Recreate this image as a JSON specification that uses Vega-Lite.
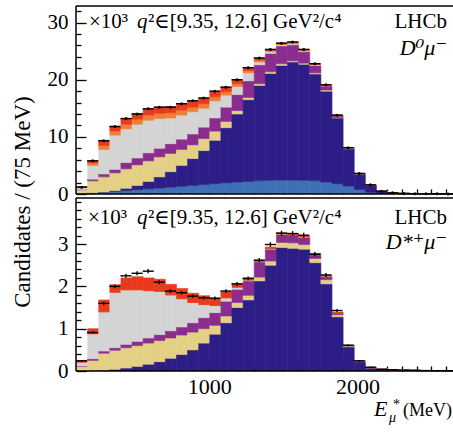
{
  "$schema": "https://vega.github.io/schema/vega-lite/v6.json",
  "background": "white",
  "padding": {"left": 12, "top": 5, "right": 0, "bottom": 0},
  "bounds": "flush",
  "spacing": 4,
  "config": {
    "view": {"stroke": null},
    "font": "Liberation Serif, Times New Roman, DejaVu Serif, serif",
    "text": {"font": "Liberation Serif, Times New Roman, DejaVu Serif, serif", "color": "black"},
    "axis": {"domain": false, "tickColor": "black", "tickWidth": 1.3, "labelColor": "black", "labelFont": "Liberation Serif, Times New Roman, DejaVu Serif, serif", "grid": false, "title": null, "labelOverlap": false, "labelBound": false, "labelFlush": false, "zindex": 2}
  },
  "datasets": {
    "top": [
      {"lo":100,"hi":175,"mid":137.5,"c1":0.05,"c2":0.03,"c3":0.67,"c4":0.07,"c5":0.33,"c6":0.07,"c7":0.08,"n":1.2,"e":0.035},
      {"lo":175,"hi":250,"mid":212.5,"c1":0.15,"c2":0.05,"c3":2.1,"c4":0.3,"c5":2.4,"c6":0.4,"c7":0.45,"n":5.8,"e":0.076},
      {"lo":250,"hi":325,"mid":287.5,"c1":0.3,"c2":0.05,"c3":2.65,"c4":0.5,"c5":4.3,"c6":0.7,"c7":0.9,"n":9.3,"e":0.096},
      {"lo":325,"hi":400,"mid":362.5,"c1":0.45,"c2":0.15,"c3":3.1,"c4":0.6,"c5":6.0,"c6":0.7,"c7":0.9,"n":11.8,"e":0.109},
      {"lo":400,"hi":475,"mid":437.5,"c1":0.6,"c2":0.4,"c3":3.4,"c4":1.1,"c5":5.9,"c6":0.8,"c7":1.0,"n":13.2,"e":0.115},
      {"lo":475,"hi":550,"mid":512.5,"c1":0.75,"c2":0.75,"c3":3.6,"c4":1.2,"c5":5.9,"c6":0.9,"c7":1.0,"n":14.0,"e":0.118},
      {"lo":550,"hi":625,"mid":587.5,"c1":0.9,"c2":1.3,"c3":3.6,"c4":1.4,"c5":5.7,"c6":0.9,"c7":1.1,"n":14.9,"e":0.122},
      {"lo":625,"hi":700,"mid":662.5,"c1":1.05,"c2":1.95,"c3":3.5,"c4":1.5,"c5":5.2,"c6":0.9,"c7":1.1,"n":15.2,"e":0.123},
      {"lo":700,"hi":775,"mid":737.5,"c1":1.2,"c2":2.7,"c3":3.2,"c4":1.7,"c5":4.5,"c6":0.9,"c7":1.1,"n":15.2,"e":0.123},
      {"lo":775,"hi":850,"mid":812.5,"c1":1.35,"c2":3.65,"c3":2.8,"c4":1.8,"c5":4.2,"c6":0.9,"c7":1.1,"n":15.8,"e":0.126},
      {"lo":850,"hi":925,"mid":887.5,"c1":1.5,"c2":4.7,"c3":2.4,"c4":1.9,"c5":3.9,"c6":0.8,"c7":1.1,"n":16.3,"e":0.128},
      {"lo":925,"hi":1000,"mid":962.5,"c1":1.65,"c2":5.95,"c3":2.1,"c4":2.0,"c5":3.3,"c6":0.8,"c7":1.0,"n":16.8,"e":0.13},
      {"lo":1000,"hi":1075,"mid":1037.5,"c1":1.8,"c2":7.6,"c3":1.6,"c4":2.3,"c5":3.0,"c6":0.7,"c7":0.9,"n":18.0,"e":0.134},
      {"lo":1075,"hi":1150,"mid":1112.5,"c1":1.95,"c2":9.65,"c3":1.1,"c4":2.5,"c5":2.1,"c6":0.6,"c7":0.8,"n":18.7,"e":0.137},
      {"lo":1150,"hi":1225,"mid":1187.5,"c1":2.1,"c2":11.9,"c3":0.6,"c4":2.8,"c5":1.4,"c6":0.5,"c7":0.7,"n":20.0,"e":0.141},
      {"lo":1225,"hi":1300,"mid":1262.5,"c1":2.2,"c2":14.3,"c3":0.4,"c4":2.9,"c5":1.4,"c6":0.4,"c7":0.5,"n":22.1,"e":0.149},
      {"lo":1300,"hi":1375,"mid":1337.5,"c1":2.3,"c2":16.7,"c3":0.3,"c4":3.3,"c5":0.5,"c6":0.3,"c7":0.4,"n":23.8,"e":0.154},
      {"lo":1375,"hi":1450,"mid":1412.5,"c1":2.4,"c2":18.7,"c3":0.3,"c4":3.2,"c5":0.3,"c6":0.2,"c7":0.2,"n":25.3,"e":0.159},
      {"lo":1450,"hi":1525,"mid":1487.5,"c1":2.45,"c2":20.05,"c3":0.3,"c4":3.1,"c5":0.2,"c6":0.2,"c7":0.1,"n":26.4,"e":0.162},
      {"lo":1525,"hi":1600,"mid":1562.5,"c1":2.45,"c2":20.65,"c3":0.2,"c4":2.8,"c5":0.2,"c6":0.2,"c7":0.1,"n":26.6,"e":0.163},
      {"lo":1600,"hi":1675,"mid":1637.5,"c1":2.4,"c2":20.3,"c3":0.2,"c4":2.0,"c5":0.1,"c6":0.2,"c7":0.1,"n":25.3,"e":0.159},
      {"lo":1675,"hi":1750,"mid":1712.5,"c1":2.3,"c2":18.7,"c3":0.2,"c4":1.3,"c5":0.1,"c6":0.1,"c7":0.1,"n":22.8,"e":0.151},
      {"lo":1750,"hi":1825,"mid":1787.5,"c1":2.1,"c2":15.9,"c3":0.2,"c4":0.7,"c5":0.1,"c6":0.05,"c7":0.05,"n":19.1,"e":0.138},
      {"lo":1825,"hi":1900,"mid":1862.5,"c1":1.8,"c2":11.5,"c3":0.1,"c4":0.3,"c5":0.05,"c6":0.05,"c7":0,"n":13.8,"e":0.117},
      {"lo":1900,"hi":1975,"mid":1937.5,"c1":1.4,"c2":6.5,"c3":0.05,"c4":0.1,"c5":0.02,"c6":0.02,"c7":0.01,"n":8.1,"e":0.09},
      {"lo":1975,"hi":2050,"mid":2012.5,"c1":0.8,"c2":2.7,"c3":0.02,"c4":0.05,"c5":0.01,"c6":0.01,"c7":0.01,"n":3.6,"e":0.06},
      {"lo":2050,"hi":2125,"mid":2087.5,"c1":0.3,"c2":1.2,"c3":0,"c4":0.03,"c5":0,"c6":0.01,"c7":0.01,"n":1.6,"e":0.04},
      {"lo":2125,"hi":2200,"mid":2162.5,"c1":0.1,"c2":0.35,"c3":0,"c4":0.01,"c5":0,"c6":0,"c7":0.01,"n":0.5,"e":0.022},
      {"lo":2200,"hi":2275,"mid":2237.5,"c1":0.04,"c2":0.16,"c3":0,"c4":0,"c5":0,"c6":0,"c7":0,"n":0.2,"e":0.014},
      {"lo":2275,"hi":2350,"mid":2312.5,"c1":0.02,"c2":0.08,"c3":0,"c4":0,"c5":0,"c6":0,"c7":0,"n":0.1,"e":0.01},
      {"lo":2350,"hi":2425,"mid":2387.5,"c1":0.01,"c2":0.05,"c3":0,"c4":0,"c5":0,"c6":0,"c7":0,"n":0.06,"e":0.008},
      {"lo":2425,"hi":2500,"mid":2462.5,"c1":0.01,"c2":0.03,"c3":0,"c4":0,"c5":0,"c6":0,"c7":0,"n":0.04,"e":0.006},
      {"lo":2500,"hi":2575,"mid":2537.5,"c1":0,"c2":0.03,"c3":0,"c4":0,"c5":0,"c6":0,"c7":0,"n":0.03,"e":0.005},
      {"lo":2575,"hi":2650,"mid":2612.5,"c1":0,"c2":0.02,"c3":0,"c4":0,"c5":0,"c6":0,"c7":0,"n":0.02,"e":0.004}
    ],
    "bot": [
      {"lo":100,"hi":175,"mid":137.5,"c1":0,"c2":0,"c3":0.11,"c4":0.01,"c5":0.09,"c6":0,"c7":0.04,"n":0.24,"e":0.016},
      {"lo":175,"hi":250,"mid":212.5,"c1":0,"c2":0.01,"c3":0.24,"c4":0.04,"c5":0.59,"c6":0,"c7":0.12,"n":0.91,"e":0.03},
      {"lo":250,"hi":325,"mid":287.5,"c1":0,"c2":0.02,"c3":0.40,"c4":0.05,"c5":0.93,"c6":0,"c7":0.28,"n":1.60,"e":0.04},
      {"lo":325,"hi":400,"mid":362.5,"c1":0,"c2":0.04,"c3":0.45,"c4":0.06,"c5":1.31,"c6":0,"c7":0.18,"n":2.0,"e":0.045},
      {"lo":400,"hi":475,"mid":437.5,"c1":0,"c2":0.07,"c3":0.48,"c4":0.08,"c5":1.29,"c6":0,"c7":0.28,"n":2.25,"e":0.047},
      {"lo":475,"hi":550,"mid":512.5,"c1":0,"c2":0.11,"c3":0.49,"c4":0.10,"c5":1.22,"c6":0,"c7":0.31,"n":2.31,"e":0.048},
      {"lo":550,"hi":625,"mid":587.5,"c1":0,"c2":0.16,"c3":0.50,"c4":0.12,"c5":1.12,"c6":0,"c7":0.30,"n":2.36,"e":0.049},
      {"lo":625,"hi":700,"mid":662.5,"c1":0,"c2":0.22,"c3":0.50,"c4":0.14,"c5":1.02,"c6":0,"c7":0.29,"n":2.10,"e":0.046},
      {"lo":700,"hi":775,"mid":737.5,"c1":0,"c2":0.30,"c3":0.48,"c4":0.17,"c5":0.85,"c6":0,"c7":0.25,"n":1.89,"e":0.043},
      {"lo":775,"hi":850,"mid":812.5,"c1":0,"c2":0.39,"c3":0.46,"c4":0.19,"c5":0.67,"c6":0,"c7":0.24,"n":1.85,"e":0.043},
      {"lo":850,"hi":925,"mid":887.5,"c1":0,"c2":0.50,"c3":0.42,"c4":0.22,"c5":0.48,"c6":0,"c7":0.22,"n":1.77,"e":0.042},
      {"lo":925,"hi":1000,"mid":962.5,"c1":0,"c2":0.66,"c3":0.34,"c4":0.26,"c5":0.31,"c6":0,"c7":0.21,"n":1.73,"e":0.042},
      {"lo":1000,"hi":1075,"mid":1037.5,"c1":0,"c2":0.87,"c3":0.21,"c4":0.30,"c5":0.17,"c6":0,"c7":0.17,"n":1.72,"e":0.041},
      {"lo":1075,"hi":1150,"mid":1112.5,"c1":0,"c2":1.14,"c3":0.16,"c4":0.35,"c5":0.08,"c6":0,"c7":0.14,"n":1.89,"e":0.043},
      {"lo":1150,"hi":1225,"mid":1187.5,"c1":0,"c2":1.50,"c3":0.12,"c4":0.31,"c5":0.05,"c6":0,"c7":0.08,"n":2.06,"e":0.045},
      {"lo":1225,"hi":1300,"mid":1262.5,"c1":0,"c2":1.68,"c3":0.11,"c4":0.34,"c5":0.02,"c6":0,"c7":0.05,"n":2.19,"e":0.047},
      {"lo":1300,"hi":1375,"mid":1337.5,"c1":0,"c2":2.13,"c3":0.09,"c4":0.36,"c5":0.01,"c6":0,"c7":0.03,"n":2.62,"e":0.051},
      {"lo":1375,"hi":1450,"mid":1412.5,"c1":0,"c2":2.50,"c3":0.10,"c4":0.28,"c5":0.01,"c6":0,"c7":0.04,"n":2.99,"e":0.055},
      {"lo":1450,"hi":1525,"mid":1487.5,"c1":0,"c2":2.92,"c3":0.12,"c4":0.19,"c5":0.01,"c6":0,"c7":0.02,"n":3.26,"e":0.057},
      {"lo":1525,"hi":1600,"mid":1562.5,"c1":0,"c2":2.90,"c3":0.13,"c4":0.19,"c5":0.01,"c6":0,"c7":0.02,"n":3.25,"e":0.057},
      {"lo":1600,"hi":1675,"mid":1637.5,"c1":0,"c2":2.88,"c3":0.11,"c4":0.17,"c5":0.01,"c6":0,"c7":0.02,"n":3.21,"e":0.057},
      {"lo":1675,"hi":1750,"mid":1712.5,"c1":0,"c2":2.56,"c3":0.10,"c4":0.09,"c5":0.01,"c6":0,"c7":0.02,"n":2.76,"e":0.053},
      {"lo":1750,"hi":1825,"mid":1787.5,"c1":0,"c2":2.06,"c3":0.10,"c4":0.08,"c5":0.01,"c6":0,"c7":0.01,"n":2.27,"e":0.048},
      {"lo":1825,"hi":1900,"mid":1862.5,"c1":0,"c2":1.28,"c3":0.05,"c4":0.05,"c5":0,"c6":0,"c7":0.01,"n":1.43,"e":0.038},
      {"lo":1900,"hi":1975,"mid":1937.5,"c1":0,"c2":0.57,"c3":0.02,"c4":0.01,"c5":0,"c6":0,"c7":0.01,"n":0.61,"e":0.025},
      {"lo":1975,"hi":2050,"mid":2012.5,"c1":0,"c2":0.22,"c3":0.01,"c4":0,"c5":0,"c6":0,"c7":0,"n":0.24,"e":0.015},
      {"lo":2050,"hi":2125,"mid":2087.5,"c1":0,"c2":0.08,"c3":0,"c4":0,"c5":0,"c6":0,"c7":0,"n":0.09,"e":0.01},
      {"lo":2125,"hi":2200,"mid":2162.5,"c1":0,"c2":0.04,"c3":0,"c4":0,"c5":0,"c6":0,"c7":0,"n":0.04,"e":0.006},
      {"lo":2200,"hi":2275,"mid":2237.5,"c1":0,"c2":0.03,"c3":0,"c4":0,"c5":0,"c6":0,"c7":0,"n":0.03,"e":0.005},
      {"lo":2275,"hi":2350,"mid":2312.5,"c1":0,"c2":0.02,"c3":0,"c4":0,"c5":0,"c6":0,"c7":0,"n":0.02,"e":0.004},
      {"lo":2350,"hi":2425,"mid":2387.5,"c1":0,"c2":0.015,"c3":0,"c4":0,"c5":0,"c6":0,"c7":0,"n":0.015,"e":0.004},
      {"lo":2425,"hi":2500,"mid":2462.5,"c1":0,"c2":0.01,"c3":0,"c4":0,"c5":0,"c6":0,"c7":0,"n":0.01,"e":0.003},
      {"lo":2500,"hi":2575,"mid":2537.5,"c1":0,"c2":0.01,"c3":0,"c4":0,"c5":0,"c6":0,"c7":0,"n":0.008,"e":0.003},
      {"lo":2575,"hi":2650,"mid":2612.5,"c1":0,"c2":0.005,"c3":0,"c4":0,"c5":0,"c6":0,"c7":0,"n":0.005,"e":0.002}
    ]
  },
  "vconcat": [
    {
      "width": 377,
      "height": 188,
      "data": {"name": "top"},
      "resolve": {"axis": {"x": "independent", "y": "independent"}},
      "layer": [
        {
          "transform": [{"fold": ["c1","c2","c3","c4","c5","c6","c7"], "as": ["comp","val"]}],
          "mark": {"type": "bar", "binSpacing": 0, "clip": true, "strokeWidth": 0.6},
          "encoding": {
            "x": {"field": "lo", "type": "quantitative", "bin": "binned", "scale": {"domain": [100, 2645.4], "nice": false, "zero": false},
              "axis": {"orient": "bottom", "offset": -10, "values": [1000, 2000], "labels": false, "tickSize": 10}},
            "x2": {"field": "hi"},
            "y": {"field": "val", "type": "quantitative", "stack": "zero", "scale": {"domain": [0, 32.9], "nice": false, "zero": false},
              "axis": {"orient": "left", "offset": -10, "values": [0, 10, 20, 30], "tickSize": 10, "labelFontSize": 21, "labelPadding": 8}},
            "color": {"field": "comp", "type": "nominal", "legend": null, "scale": {"domain": ["c1","c2","c3","c4","c5","c6","c7"], "range": ["#3F6FB5","#2C1E86","#E3D085","#8B2D8E","#D4D4D4","#F07F35","#EA3A1E"]}},
            "stroke": {"field": "comp", "type": "nominal", "legend": null, "scale": {"domain": ["c1","c2","c3","c4","c5","c6","c7"], "range": ["#3F6FB5","#2C1E86","#E3D085","#8B2D8E","#D4D4D4","#F07F35","#EA3A1E"]}},
            "order": {"field": "comp", "sort": "ascending"}
          }
        },
        {
          "data": {"values": [{}]},
          "mark": {"type": "rule", "color": "black", "strokeWidth": 1.5},
          "encoding": {"y": {"datum": 32.9, "type": "quantitative", "scale": {"domain": [0, 32.9], "nice": false, "zero": false},
            "axis": {"orient": "left", "offset": -5, "values": [2,4,6,8,12,14,16,18,22,24,26,28,32], "labels": false, "tickSize": 5}}}
        },
        {
          "data": {"values": [{}]},
          "mark": {"type": "rule", "color": "black", "strokeWidth": 1.5},
          "encoding": {"y": {"datum": 0, "type": "quantitative", "scale": {"domain": [0, 32.9], "nice": false, "zero": false}, "axis": null}}
        },
        {
          "data": {"values": [{}]},
          "mark": {"type": "rule", "color": "black", "strokeWidth": 1.5},
          "encoding": {"x": {"datum": 100, "type": "quantitative", "scale": {"domain": [100, 2645.4], "nice": false, "zero": false}, "axis": null}}
        },
        {
          "mark": {"type": "rule", "color": "black", "strokeWidth": 1.4},
          "encoding": {
            "x": {"field": "lo", "type": "quantitative", "scale": {"domain": [100, 2645.4], "nice": false, "zero": false},
              "axis": {"orient": "bottom", "offset": -5, "values": [200,300,400,500,600,700,800,900,1100,1200,1300,1400,1500,1600,1700,1800,1900,2100,2200,2300,2400,2500,2600], "labels": false, "tickSize": 5}},
            "x2": {"field": "hi"},
            "y": {"field": "n", "type": "quantitative", "scale": {"domain": [0, 32.9], "nice": false, "zero": false}, "axis": null}
          }
        },
        {
          "mark": {"type": "errorbar", "color": "black", "thickness": 1.4},
          "encoding": {
            "x": {"field": "mid", "type": "quantitative", "scale": {"domain": [100, 2645.4], "nice": false, "zero": false}, "axis": null},
            "y": {"field": "n", "type": "quantitative", "scale": {"domain": [0, 32.9], "nice": false, "zero": false}, "axis": null},
            "yError": {"field": "e"}
          }
        },
        {
          "mark": {"type": "circle", "color": "black", "opacity": 1, "size": 9},
          "encoding": {
            "x": {"field": "mid", "type": "quantitative", "scale": {"domain": [100, 2645.4], "nice": false, "zero": false}, "axis": null},
            "y": {"field": "n", "type": "quantitative", "scale": {"domain": [0, 32.9], "nice": false, "zero": false}, "axis": null}
          }
        },
        {
          "data": {"values": [{}]},
          "mark": {"type": "text", "text": "×10³", "align": "left", "baseline": "alphabetic", "fontSize": 21},
          "encoding": {
            "x": {"datum": 187.8, "type": "quantitative", "scale": {"domain": [100, 2645.4], "nice": false, "zero": false}, "axis": null},
            "y": {"datum": 29.0, "type": "quantitative", "scale": {"domain": [0, 32.9], "nice": false, "zero": false}, "axis": null}
          }
        },
        {
          "data": {"values": [{}]},
          "mark": {"type": "text", "text": "q", "align": "left", "baseline": "alphabetic", "fontSize": 21, "fontStyle": "italic"},
          "encoding": {
            "x": {"datum": 511.9, "type": "quantitative", "scale": {"domain": [100, 2645.4], "nice": false, "zero": false}, "axis": null},
            "y": {"datum": 29.0, "type": "quantitative", "scale": {"domain": [0, 32.9], "nice": false, "zero": false}, "axis": null}
          }
        },
        {
          "data": {"values": [{}]},
          "mark": {"type": "text", "text": "²∈[9.35, 12.6] GeV²/c⁴", "align": "left", "baseline": "alphabetic", "fontSize": 21},
          "encoding": {
            "x": {"datum": 586.1, "type": "quantitative", "scale": {"domain": [100, 2645.4], "nice": false, "zero": false}, "axis": null},
            "y": {"datum": 29.0, "type": "quantitative", "scale": {"domain": [0, 32.9], "nice": false, "zero": false}, "axis": null}
          }
        },
        {
          "data": {"values": [{}]},
          "mark": {"type": "text", "text": "LHCb", "align": "right", "baseline": "alphabetic", "fontSize": 21},
          "encoding": {
            "x": {"datum": 2605, "type": "quantitative", "scale": {"domain": [100, 2645.4], "nice": false, "zero": false}, "axis": null},
            "y": {"datum": 29.0, "type": "quantitative", "scale": {"domain": [0, 32.9], "nice": false, "zero": false}, "axis": null}
          }
        },
        {
          "data": {"values": [{}]},
          "mark": {"type": "text", "text": "D⁰μ⁻", "align": "right", "baseline": "alphabetic", "fontSize": 22, "fontStyle": "italic"},
          "encoding": {
            "x": {"datum": 2605, "type": "quantitative", "scale": {"domain": [100, 2645.4], "nice": false, "zero": false}, "axis": null},
            "y": {"datum": 24.4, "type": "quantitative", "scale": {"domain": [0, 32.9], "nice": false, "zero": false}, "axis": null}
          }
        },
        {
          "data": {"values": [{}]},
          "mark": {"type": "text", "text": "Candidates / (75 MeV)", "align": "center", "baseline": "middle", "angle": 270, "fontSize": 23},
          "encoding": {
            "x": {"datum": -257.8, "type": "quantitative", "scale": {"domain": [100, 2645.4], "nice": false, "zero": false}, "axis": null},
            "y": {"datum": -1.4, "type": "quantitative", "scale": {"domain": [0, 32.9], "nice": false, "zero": false}, "axis": null}
          }
        }
      ]
    },
    {
      "width": 377,
      "height": 173,
      "data": {"name": "bot"},
      "resolve": {"axis": {"x": "independent", "y": "independent"}},
      "layer": [
        {
          "transform": [{"fold": ["c1","c2","c3","c4","c5","c6","c7"], "as": ["comp","val"]}],
          "mark": {"type": "bar", "binSpacing": 0, "clip": true, "strokeWidth": 0.6},
          "encoding": {
            "x": {"field": "lo", "type": "quantitative", "bin": "binned", "scale": {"domain": [100, 2645.4], "nice": false, "zero": false},
              "axis": {"orient": "bottom", "offset": -10, "values": [1000, 2000], "format": "d", "tickSize": 10, "labelFontSize": 22, "labelPadding": 5}},
            "x2": {"field": "hi"},
            "y": {"field": "val", "type": "quantitative", "stack": "zero", "scale": {"domain": [0, 4.09], "nice": false, "zero": false},
              "axis": {"orient": "left", "offset": -10, "values": [0, 1, 2, 3], "format": "d", "tickSize": 10, "labelFontSize": 21, "labelPadding": 8}},
            "color": {"field": "comp", "type": "nominal", "legend": null, "scale": {"domain": ["c1","c2","c3","c4","c5","c6","c7"], "range": ["#3F6FB5","#2C1E86","#E3D085","#8B2D8E","#D4D4D4","#F07F35","#EF3B22"]}},
            "stroke": {"field": "comp", "type": "nominal", "legend": null, "scale": {"domain": ["c1","c2","c3","c4","c5","c6","c7"], "range": ["#3F6FB5","#2C1E86","#E3D085","#8B2D8E","#D4D4D4","#F07F35","#EF3B22"]}},
            "order": {"field": "comp", "sort": "ascending"}
          }
        },
        {
          "data": {"values": [{}]},
          "mark": {"type": "rule", "color": "black", "strokeWidth": 1.5},
          "encoding": {"y": {"datum": 4.09, "type": "quantitative", "scale": {"domain": [0, 4.09], "nice": false, "zero": false},
            "axis": {"orient": "left", "offset": -5, "values": [0.2,0.4,0.6,0.8,1.2,1.4,1.6,1.8,2.2,2.4,2.6,2.8,3.2,3.4,3.6,3.8,4.0], "labels": false, "tickSize": 5}}}
        },
        {
          "data": {"values": [{}]},
          "mark": {"type": "rule", "color": "black", "strokeWidth": 1.5},
          "encoding": {"y": {"datum": 0, "type": "quantitative", "scale": {"domain": [0, 4.09], "nice": false, "zero": false}, "axis": null}}
        },
        {
          "data": {"values": [{}]},
          "mark": {"type": "rule", "color": "black", "strokeWidth": 1.5},
          "encoding": {"x": {"datum": 100, "type": "quantitative", "scale": {"domain": [100, 2645.4], "nice": false, "zero": false}, "axis": null}}
        },
        {
          "mark": {"type": "rule", "color": "black", "strokeWidth": 1.4},
          "encoding": {
            "x": {"field": "lo", "type": "quantitative", "scale": {"domain": [100, 2645.4], "nice": false, "zero": false},
              "axis": {"orient": "bottom", "offset": -5, "values": [200,300,400,500,600,700,800,900,1100,1200,1300,1400,1500,1600,1700,1800,1900,2100,2200,2300,2400,2500,2600], "labels": false, "tickSize": 5}},
            "x2": {"field": "hi"},
            "y": {"field": "n", "type": "quantitative", "scale": {"domain": [0, 4.09], "nice": false, "zero": false}, "axis": null}
          }
        },
        {
          "mark": {"type": "errorbar", "color": "black", "thickness": 1.4},
          "encoding": {
            "x": {"field": "mid", "type": "quantitative", "scale": {"domain": [100, 2645.4], "nice": false, "zero": false}, "axis": null},
            "y": {"field": "n", "type": "quantitative", "scale": {"domain": [0, 4.09], "nice": false, "zero": false}, "axis": null},
            "yError": {"field": "e"}
          }
        },
        {
          "data": {"values": [{}]},
          "mark": {"type": "text", "text": "×10³", "align": "left", "baseline": "alphabetic", "fontSize": 21},
          "encoding": {
            "x": {"datum": 181, "type": "quantitative", "scale": {"domain": [100, 2645.4], "nice": false, "zero": false}, "axis": null},
            "y": {"datum": 3.475, "type": "quantitative", "scale": {"domain": [0, 4.09], "nice": false, "zero": false}, "axis": null}
          }
        },
        {
          "data": {"values": [{}]},
          "mark": {"type": "text", "text": "q", "align": "left", "baseline": "alphabetic", "fontSize": 21, "fontStyle": "italic"},
          "encoding": {
            "x": {"datum": 511.9, "type": "quantitative", "scale": {"domain": [100, 2645.4], "nice": false, "zero": false}, "axis": null},
            "y": {"datum": 3.475, "type": "quantitative", "scale": {"domain": [0, 4.09], "nice": false, "zero": false}, "axis": null}
          }
        },
        {
          "data": {"values": [{}]},
          "mark": {"type": "text", "text": "²∈[9.35, 12.6] GeV²/c⁴", "align": "left", "baseline": "alphabetic", "fontSize": 21},
          "encoding": {
            "x": {"datum": 586.1, "type": "quantitative", "scale": {"domain": [100, 2645.4], "nice": false, "zero": false}, "axis": null},
            "y": {"datum": 3.475, "type": "quantitative", "scale": {"domain": [0, 4.09], "nice": false, "zero": false}, "axis": null}
          }
        },
        {
          "data": {"values": [{}]},
          "mark": {"type": "text", "text": "LHCb", "align": "right", "baseline": "alphabetic", "fontSize": 21},
          "encoding": {
            "x": {"datum": 2605, "type": "quantitative", "scale": {"domain": [100, 2645.4], "nice": false, "zero": false}, "axis": null},
            "y": {"datum": 3.475, "type": "quantitative", "scale": {"domain": [0, 4.09], "nice": false, "zero": false}, "axis": null}
          }
        },
        {
          "data": {"values": [{}]},
          "mark": {"type": "text", "text": "D*⁺μ⁻", "align": "right", "baseline": "alphabetic", "fontSize": 22, "fontStyle": "italic"},
          "encoding": {
            "x": {"datum": 2605, "type": "quantitative", "scale": {"domain": [100, 2645.4], "nice": false, "zero": false}, "axis": null},
            "y": {"datum": 2.884, "type": "quantitative", "scale": {"domain": [0, 4.09], "nice": false, "zero": false}, "axis": null}
          }
        },
        {
          "data": {"values": [{}]},
          "mark": {"type": "text", "text": "E", "align": "left", "baseline": "alphabetic", "fontSize": 22, "fontStyle": "italic"},
          "encoding": {
            "x": {"datum": 2112, "type": "quantitative", "scale": {"domain": [100, 2645.4], "nice": false, "zero": false}, "axis": null},
            "y": {"datum": -1.064, "type": "quantitative", "scale": {"domain": [0, 4.09], "nice": false, "zero": false}, "axis": null}
          }
        },
        {
          "data": {"values": [{}]},
          "mark": {"type": "text", "text": "*", "align": "left", "baseline": "alphabetic", "fontSize": 14},
          "encoding": {
            "x": {"datum": 2240, "type": "quantitative", "scale": {"domain": [100, 2645.4], "nice": false, "zero": false}, "axis": null},
            "y": {"datum": -0.9, "type": "quantitative", "scale": {"domain": [0, 4.09], "nice": false, "zero": false}, "axis": null}
          }
        },
        {
          "data": {"values": [{}]},
          "mark": {"type": "text", "text": "μ", "align": "left", "baseline": "alphabetic", "fontSize": 14, "fontStyle": "italic"},
          "encoding": {
            "x": {"datum": 2213, "type": "quantitative", "scale": {"domain": [100, 2645.4], "nice": false, "zero": false}, "axis": null},
            "y": {"datum": -1.21, "type": "quantitative", "scale": {"domain": [0, 4.09], "nice": false, "zero": false}, "axis": null}
          }
        },
        {
          "data": {"values": [{}]},
          "mark": {"type": "text", "text": "(MeV)", "align": "right", "baseline": "alphabetic", "fontSize": 18},
          "encoding": {
            "x": {"datum": 2638.7, "type": "quantitative", "scale": {"domain": [100, 2645.4], "nice": false, "zero": false}, "axis": null},
            "y": {"datum": -1.064, "type": "quantitative", "scale": {"domain": [0, 4.09], "nice": false, "zero": false}, "axis": null}
          }
        }
      ]
    }
  ]
}
